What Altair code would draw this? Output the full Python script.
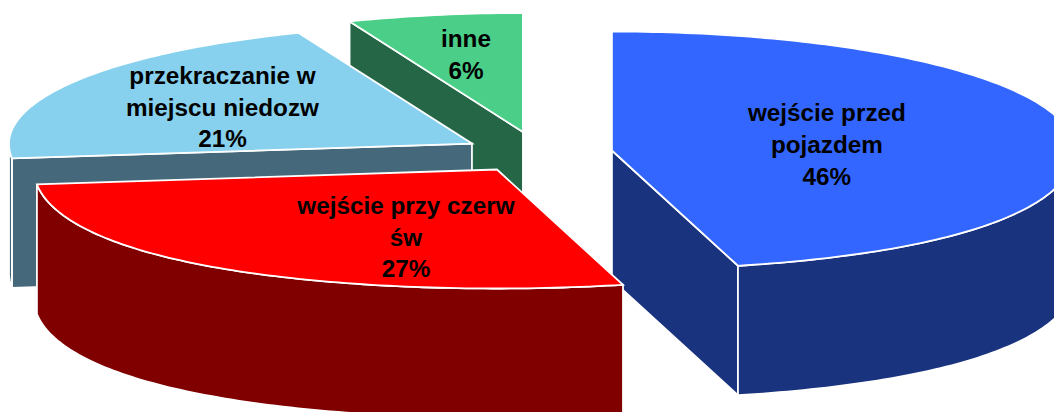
import math
import altair as alt
import pandas as pd

# chart values
names = ["wejście przed pojazdem", "wejście przy czerw św", "przekraczanie w miejscu niedozw", "inne"]
shares = [46, 27, 21, 6]
top_colors = ["#3366FF", "#FF0000", "#87D1EE", "#4BCE88"]
wall_colors = ["#1A337F", "#800000", "#45697A", "#246645"]

# label lines of every slice
label_lines = [
    ["wejście przed", "pojazdem", "46%"],
    ["wejście przy czerw", "św", "27%"],
    ["przekraczanie w", "miejscu niedozw", "21%"],
    ["inne", "6%"],
]

# layout of the exploded pie (page pixels)
PAGE = 8
ZOOM = 1070 / 1062
centres = [(612, 149), (497, 168), (472, 142), (523, 130.5)]
label_pos = [(827, [113, 145, 177]), (406, [206, 238, 269]), (222.5, [76, 108, 139]), (466, [39, 71])]
RX, RY, DEPTH, NEAR, FAR = 463, 119, 129.5, 0.101, 0.02
FONT = 24.3


def pt(c, deg, drop=0):
    t = math.radians(deg)
    cos = math.cos(t)
    near = 1 + NEAR * max(0, -cos) ** 2 + FAR * max(0, cos) ** 2
    return [c[0] + RX * math.sin(t) * near - PAGE, c[1] - RY * cos + drop - PAGE]


def arc(c, a0, a1, drop=0):
    n = max(2, int(abs(a1 - a0)) + 1)
    return [pt(c, a0 + (a1 - a0) * i / n, drop) for i in range(n + 1)]


def feature(part, ring):
    ring = ring + [ring[0]]
    return {"type": "Feature", "properties": {"part": part},
            "geometry": {"type": "Polygon", "coordinates": [ring]}}


def slice_features(i, a0, a1):
    c, out = centres[i], []
    wall = names[i] + " wall"
    hub = [c[0] - PAGE, c[1] - PAGE]
    hub_low = [hub[0], hub[1] + DEPTH]
    if math.sin(math.radians(a0)) < 0:
        out.append(feature(wall, [hub, pt(c, a0), pt(c, a0, DEPTH), hub_low]))
    if math.sin(math.radians(a1)) > 1e-9:
        out.append(feature(wall, [hub, pt(c, a1), pt(c, a1, DEPTH), hub_low]))
    lo, hi = max(a0, 90), min(a1, 270)
    if hi > lo:
        out.append(feature(wall, arc(c, lo, hi) + arc(c, hi, lo, DEPTH)))
    out.append(feature(names[i], [hub] + arc(c, a0, a1)))
    return out


bounds, run = [], 0
for s in shares:
    bounds.append((run * 3.6, (run + s) * 3.6))
    run += s

features = []
for i in [0, 3, 2, 1]:  # back-to-front painting order
    features += slice_features(i, *bounds[i])

labels = pd.DataFrame([
    {"x": label_pos[i][0] - PAGE, "y": y - PAGE, "text": line}
    for i, lines in enumerate(label_lines)
    for line, y in zip(lines, label_pos[i][1])
])

projection = dict(type="identity", scale=ZOOM, translate=[0, 0])

faces = alt.Chart(alt.Data(values=features)).mark_geoshape(
    stroke="#FFFFFF", strokeWidth=1.8, clip=True
).encode(
    color=alt.Color(
        "properties.part:N",
        scale=alt.Scale(domain=names + [n + " wall" for n in names], range=top_colors + wall_colors),
        legend=None,
    )
).project(**projection)

text = alt.Chart(labels).mark_text(
    font="Liberation Sans", fontWeight="bold", fontSize=FONT * ZOOM, color="#000000", align="center", baseline="middle"
).encode(longitude="x:Q", latitude="y:Q", text="text:N").project(**projection)

chart = alt.layer(faces, text).properties(
    width=1054, height=407, padding=0, background="#FFFFFF", autosize=alt.AutoSizeParams(type="none")
).configure_view(stroke=None)

chart.save("out.html", embed_options={"renderer": "svg", "actions": False})
